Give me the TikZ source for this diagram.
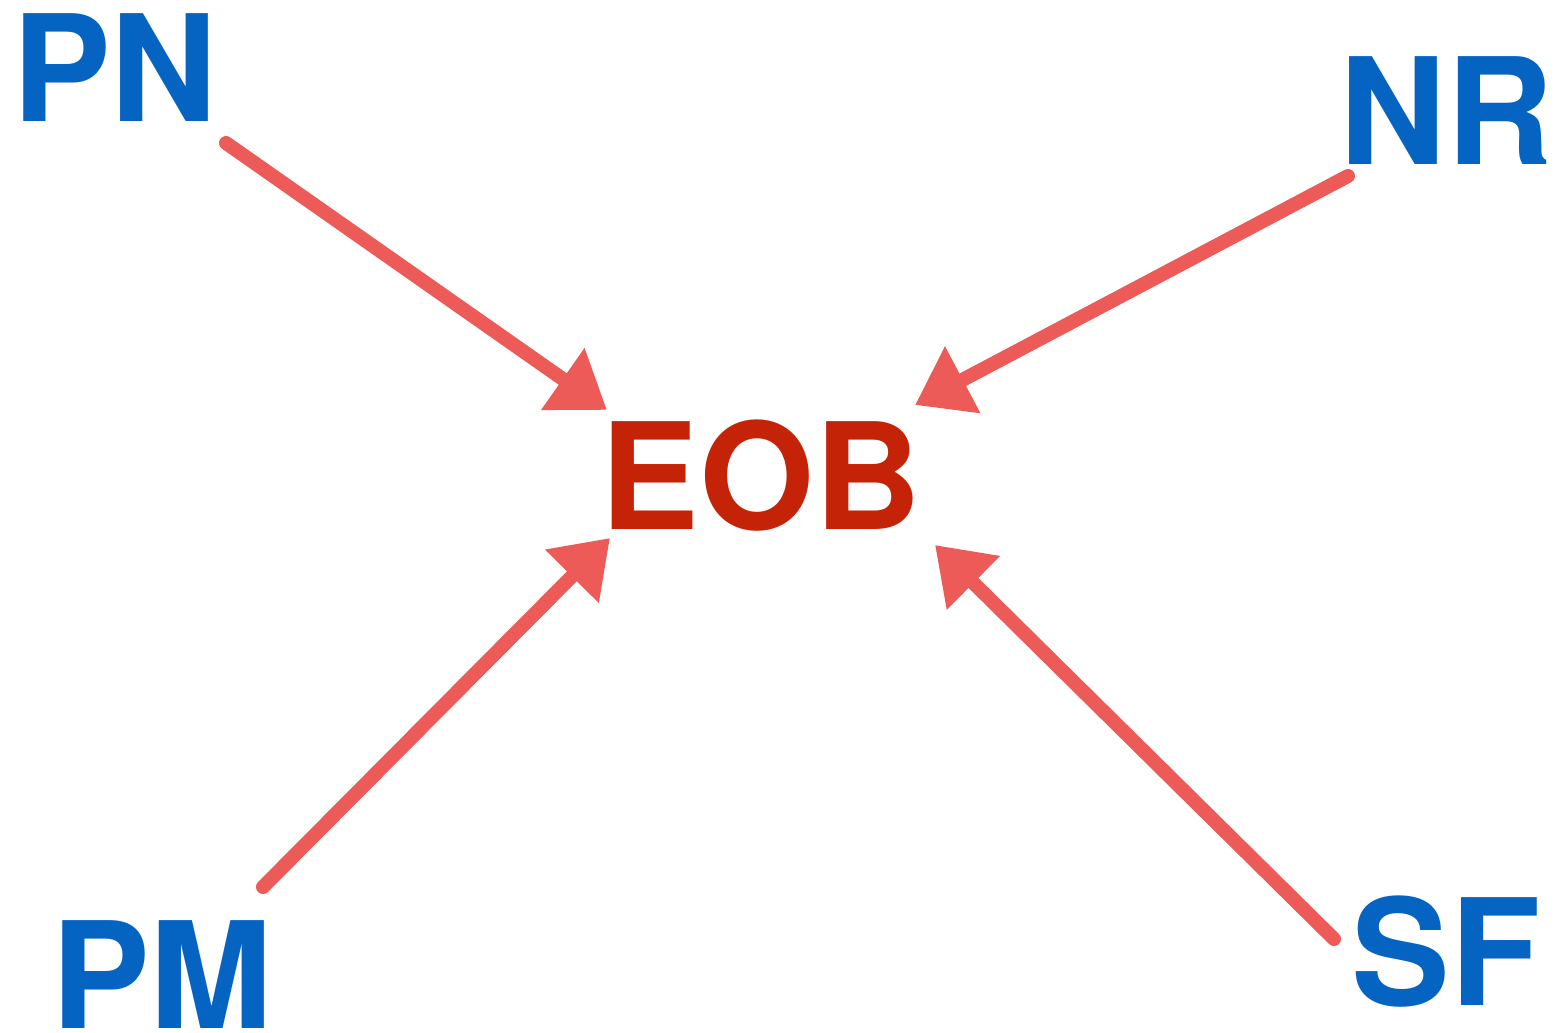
\documentclass[tikz,border=0pt]{standalone}
\usepackage{fontspec}
\setmainfont{TeX Gyre Heros}
\usetikzlibrary{arrows.meta}
\definecolor{lblblue}{RGB}{5,99,193}
\definecolor{eobred}{RGB}{197,35,7}
\definecolor{arrred}{RGB}{236,91,87}
\tikzset{
  lbl/.style={inner sep=0pt, font=\fontsize{148}{148}\selectfont\bfseries, text=lblblue},
  main/.style={inner sep=0pt, font=\fontsize{148}{148}\selectfont\bfseries, text=eobred},
  conn/.style={draw=arrred, line width=14pt, line cap=round,
    -{Triangle[length=54pt,width=72pt]}}
}
\begin{document}
\begin{tikzpicture}[x=1pt,y=-1pt]
\path[use as bounding box, fill=white] (0,0) rectangle (1558,1033);
\node[lbl] (PN) at (115,68) {PN};
\node[lbl] (NR) at (1446,111) {NR};
\node[lbl] (PM) at (162,975) {PM};
\node[lbl] (SF) at (1446,952) {SF};
\node[main] (EOB) at (761,476) {EOB};
\draw[conn] ([shift={(111,75)}]PN.center) -- ([shift={(-154,-66)}]EOB.center);
\draw[conn] ([shift={(-98,65)}]NR.center) -- ([shift={(154,-71)}]EOB.center);
\draw[conn] ([shift={(101,-88)}]PM.center) -- ([shift={(-151,62)}]EOB.center);
\draw[conn] ([shift={(-112,-13)}]SF.center) -- ([shift={(174,69)}]EOB.center);
\end{tikzpicture}
\end{document}
